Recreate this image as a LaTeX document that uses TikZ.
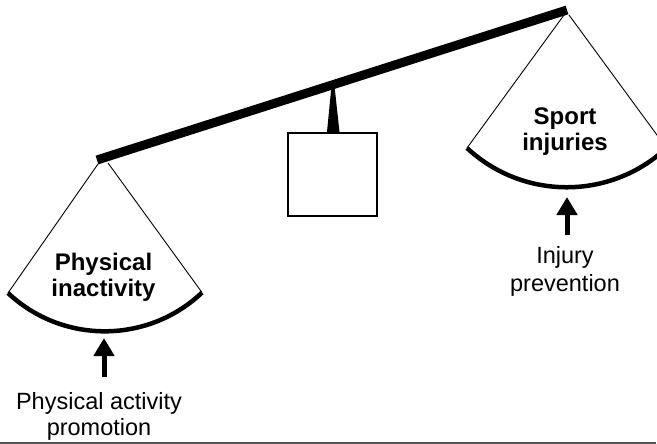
\documentclass[tikz,border=0pt]{standalone}
\usepackage{fontspec}
\setmainfont{Liberation Sans}
\usetikzlibrary{arrows.meta}
\begin{document}
\begin{tikzpicture}[x=1pt,y=-1pt,
  beam/.style={line width=9pt},
  panline/.style={line width=0.9pt},
  panarc/.style={line width=4.5pt},
  pusharrow/.style={line width=5pt,-{Triangle[width=20pt,length=18pt]}},
  boldlabel/.style={font=\fontsize{24}{26}\selectfont\bfseries,align=center,inner sep=0pt},
  plainlabel/.style={font=\fontsize{23.5}{26}\selectfont,align=center,inner sep=0pt},
  framebox/.style={draw,line width=2pt,minimum width=89pt,minimum height=83pt,inner sep=0pt}]
\useasboundingbox (0,0) rectangle (657,444);
\clip (0,0) rectangle (657,444);
% beam
\coordinate (beamL) at (97,160);
\coordinate (beamR) at (567,10);
\draw[beam] (beamL) -- (beamR);
% fulcrum and box
\node[framebox] (box) at (332.5,174.5) {};
\fill (331.5,86) -- (334.5,86) -- (339.5,132) -- (327,132) -- cycle;
% left pan
\coordinate (LapexA) at (98,164);
\coordinate (LapexB) at (108,163);
\coordinate (Lleft) at (8,293);
\coordinate (Lright) at (202,292.5);
\draw[panline] (LapexA) -- (Lleft);
\draw[panline] (LapexB) -- (Lright);
\draw[panarc] (Lleft) arc[start angle=133.2, end angle=46.55, radius=141.4];
% right pan
\coordinate (RapexA) at (564,15);
\coordinate (RapexB) at (569,15);
\coordinate (Rleft) at (467,148);
\coordinate (Rright) at (666.5,148);
\draw[panline] (RapexA) -- (Rleft);
\draw[panline] (RapexB) -- (Rright);
\draw[panarc] (Rleft) arc[start angle=132.98, end angle=47.0, radius=146.3];
% labels
\node[boldlabel] (inact) at (103.5,277) {Physical\\inactivity};
\node[boldlabel] (sport) at (565,132) {Sport\\injuries};
\node[plainlabel] (promo) at (99,416) {Physical activity\\promotion};
\node[plainlabel,font=\fontsize{23.5}{28}\selectfont] (injprev) at (565,271) {Injury\\prevention};
% arrows
\coordinate (Ltail) at (104,377);
\coordinate (Ltip) at (104,338);
\coordinate (Rtail) at (567,235);
\coordinate (Rtip) at (567,197);
\draw[pusharrow] (Ltail) -- (Ltip);
\draw[pusharrow] (Rtail) -- (Rtip);
% bottom rule
\coordinate (ruleL) at (0,443);
\coordinate (ruleR) at (656,443);
\draw[line width=2pt,black!67] (ruleL) -- (ruleR);
\end{tikzpicture}
\end{document}
